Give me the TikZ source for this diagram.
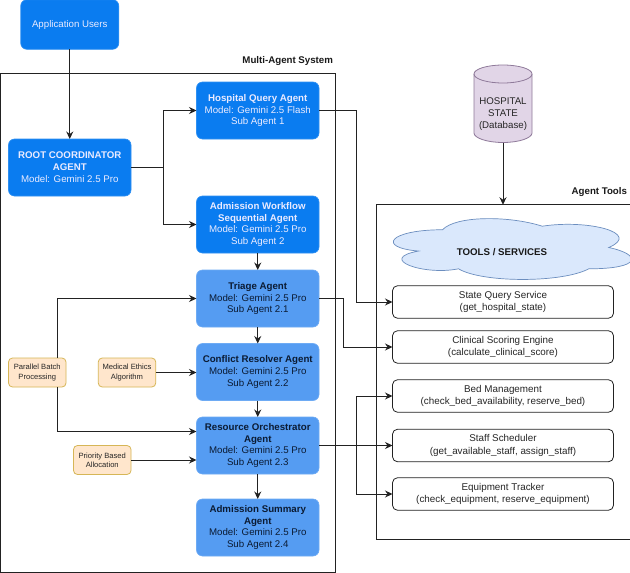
\documentclass[tikz,border=0pt]{standalone}
\usepackage{fontspec}
\setmainfont{Liberation Sans}
\usetikzlibrary{arrows.meta}
\definecolor{bluedark}{HTML}{0A7CF0}
\definecolor{bluelite}{HTML}{559CF2}
\definecolor{linec}{HTML}{222222}
\definecolor{ptxt}{HTML}{0B1B33}
\definecolor{noteF}{HTML}{FFE6CC}
\definecolor{noteD}{HTML}{D6B656}
\definecolor{cloudF}{HTML}{DAE8FC}
\definecolor{cloudD}{HTML}{6C8EBF}
\definecolor{dbF}{HTML}{E1D5E7}
\definecolor{dbD}{HTML}{8F7A9A}
\tikzset{
  every node/.style={font=\fontsize{9.7}{11.9}\selectfont,align=center,inner sep=0pt,outer sep=0pt},
  box/.style={rounded corners=6pt,minimum width=122.5pt,minimum height=57pt},
  agentA/.style={box,fill=bluedark,draw=bluedark!85!white,line width=.6pt,text=white!92!blue},
  agentB/.style={box,fill=bluelite,draw=bluelite!85!white,line width=.6pt,text=ptxt},
  note/.style={rounded corners=4pt,fill=noteF,draw=noteD,line width=.8pt,minimum width=57.5pt,minimum height=29pt,font=\fontsize{7.6}{9.2}\selectfont,text=black!85},
  frm/.style={draw=linec,line width=.9pt},
  tool/.style={rounded corners=5pt,draw=linec,line width=.8pt,fill=white,minimum width=221pt,minimum height=32.5pt,font=\fontsize{9.85}{12.2}\selectfont,text=black!85},
  conn/.style={draw=linec,line width=.9pt,-{Stealth[length=7.5pt,width=7pt,inset=2.5pt]}},
  plain/.style={draw=linec,line width=.9pt},
  lbl/.style={font=\fontsize{9.7}{11.9}\selectfont\bfseries,text=black!90,anchor=east},
}
\begin{document}
\begin{tikzpicture}[x=1pt,y=-1pt]
\useasboundingbox (0,0) rectangle (630,573);
\fill[white] (0,0) rectangle (630,573);
% frames
\node[frm,minimum width=334.5pt,minimum height=498.5pt] (mas) at (167.75,322.75) {};
\node[frm,minimum width=254pt,minimum height=334.5pt] (tools) at (503,372) {};
\node[lbl] (maslbl) at (333,61) {Multi-Agent System};
\node[lbl] (toolslbl) at (627,192) {Agent Tools};
% agents
\node[agentA,minimum width=98pt,minimum height=49.5pt] (users) at (69.75,24.5) {Application Users};
\node[agentA] (root) at (69.75,167.5) {\textbf{ROOT COORDINATOR}\\\textbf{AGENT}\\Model: Gemini 2.5 Pro};
\node[agentA] (hosp) at (257.75,110.5) {\textbf{Hospital Query Agent}\\Model: Gemini 2.5 Flash\\Sub Agent 1};
\node[agentA] (adm) at (257.75,224.5) {\textbf{Admission Workflow}\\\textbf{Sequential Agent}\\Model: Gemini 2.5 Pro\\Sub Agent 2};
\node[agentB] (tri) at (257.75,298.5) {\textbf{Triage Agent}\\Model: Gemini 2.5 Pro\\Sub Agent 2.1};
\node[agentB] (con) at (257.75,372) {\textbf{Conflict Resolver Agent}\\Model: Gemini 2.5 Pro\\Sub Agent 2.2};
\node[agentB] (res) at (257.75,445.5) {\textbf{Resource Orchestrator}\\\textbf{Agent}\\Model: Gemini 2.5 Pro\\Sub Agent 2.3};
\node[agentB] (sum) at (257.75,527.5) {\textbf{Admission Summary}\\\textbf{Agent}\\Model: Gemini 2.5 Pro\\Sub Agent 2.4};
% notes
\node[note] (par) at (37.25,372.5) {Parallel Batch\\Processing};
\node[note] (med) at (127,372.5) {Medical Ethics\\Algorithm};
\node[note] (pri) at (102.25,460) {Priority Based\\Allocation};
% cloud
\begin{scope}[shift={(376,212)},x=266pt,y=-71pt]
\draw[fill=cloudF,draw=cloudD,line width=.7pt]
 (0.25,0.25) .. controls (0.05,0.25) and (0,0.5) .. (0.16,0.55)
 .. controls (0,0.66) and (0.18,0.9) .. (0.31,0.8)
 .. controls (0.4,1) and (0.7,1) .. (0.8,0.8)
 .. controls (1,0.8) and (1,0.6) .. (0.875,0.5)
 .. controls (1,0.3) and (0.8,0.1) .. (0.625,0.2)
 .. controls (0.5,0.05) and (0.3,0.05) .. (0.25,0.25) -- cycle;
\end{scope}
\node[font=\fontsize{9.7}{11.9}\selectfont\bfseries,text=black!90] (cloudt) at (502,252.5) {TOOLS / SERVICES};
% database
\draw[fill=dbF,draw=dbD,line width=.8pt]
 (474,74) .. controls (474,69) and (487,65) .. (503,65)
 .. controls (519,65) and (532,69) .. (532,74)
 -- (532,133) .. controls (532,138) and (519,142.5) .. (503,142.5)
 .. controls (487,142.5) and (474,138) .. (474,133) -- cycle;
\draw[draw=dbD,line width=.8pt] (474,74) .. controls (474,79) and (487,83) .. (503,83)
 .. controls (519,83) and (532,79) .. (532,74);
\node[minimum width=58pt,minimum height=77.5pt] (db) at (503,103.75) {};
\node[text=black!85] (dbt) at (503,114) {HOSPITAL\\STATE\\(Database)};
% tools
\node[tool] (t1) at (503,302) {State Query Service\\(get\_hospital\_state)};
\node[tool] (t2) at (503,347) {Clinical Scoring Engine\\(calculate\_clinical\_score)};
\node[tool] (t3) at (503,396) {Bed Management\\(check\_bed\_availability, reserve\_bed)};
\node[tool] (t4) at (503,445.5) {Staff Scheduler\\(get\_available\_staff, assign\_staff)};
\node[tool] (t5) at (503,494) {Equipment Tracker\\(check\_equipment, reserve\_equipment)};
% routing coordinates
\coordinate (j1) at (163.5,167.5);
\coordinate (j2) at (356,110.5);
\coordinate (j3) at (343.5,298.5);
\coordinate (j4) at (356,445.5);
\coordinate (j5) at (57.5,372.5);
\coordinate (j6) at (196.5,431.5);
% connectors
\draw[conn] (users.south) -- (root.north);
\draw[plain] (root.east) -- (j1);
\draw[conn] (j1) |- (hosp.west);
\draw[conn] (j1) |- (adm.west);
\draw[conn] (adm.south) -- (tri.north);
\draw[conn] (tri.south) -- (con.north);
\draw[conn] (con.south) -- (res.north);
\draw[conn] (res.south) -- (sum.north);
\draw[conn] (hosp.east) -- (j2) |- (t1.west);
\draw[conn] (tri.east) -- (j3) |- (t2.west);
\draw[conn] (res.east) -- (t4.west);
\draw[conn] (j4) |- (t3.west);
\draw[conn] (j4) |- (t5.west);
\draw[conn] (j5 |- par.north) |- (tri.west);
\draw[conn] (j5 |- par.south) |- (j6);
\draw[conn] (med.east) -- (con.west |- med.east);
\draw[conn] (pri.east) -- (res.west |- pri.east);
\draw[conn] (db.south) -- (db.south |- tools.north);
\end{tikzpicture}
\end{document}
